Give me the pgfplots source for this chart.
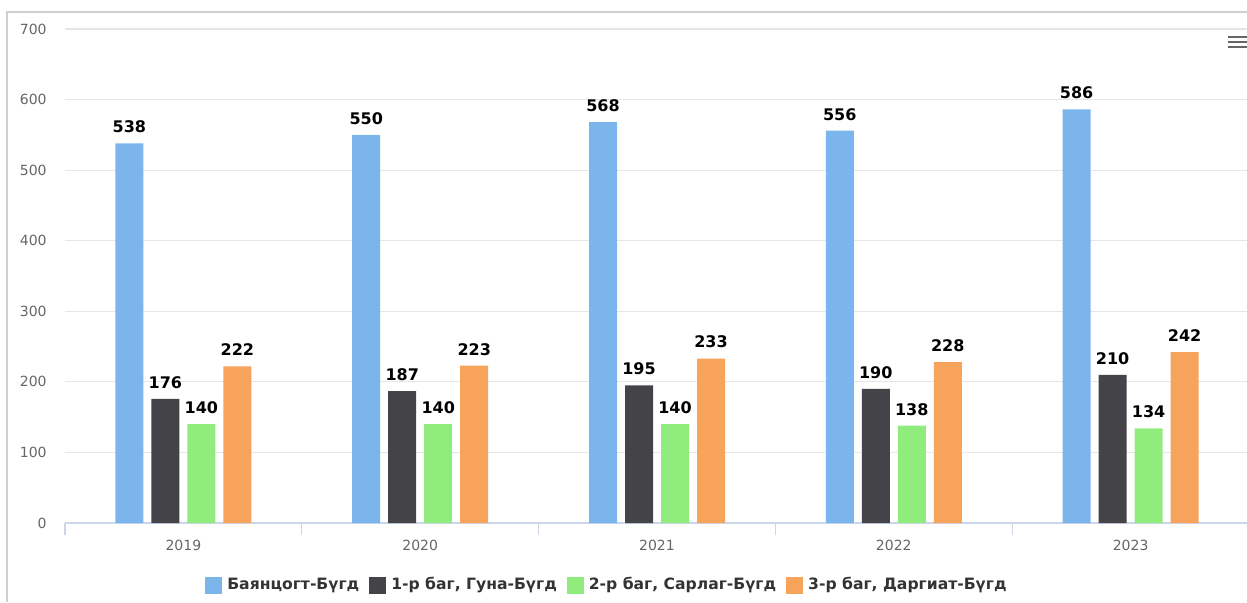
\documentclass[border=0pt]{standalone}
\usepackage{fontspec}
\setmainfont{DejaVu Sans}
\usepackage{pgfplots}
\pgfplotsset{compat=1.18}
\definecolor{cA}{HTML}{7CB5EC}
\definecolor{cB}{HTML}{434348}
\definecolor{cC}{HTML}{90ED7D}
\definecolor{cD}{HTML}{F7A35C}
\definecolor{gridc}{HTML}{E6E6E6}
\definecolor{axisc}{HTML}{CCD6EB}
\definecolor{tickc}{HTML}{666666}
\definecolor{legtext}{HTML}{333333}
\definecolor{bordc}{HTML}{CFCFCF}
\begin{document}
\begin{tikzpicture}
\path[use as bounding box] (0,0) rectangle (623.5pt,-301pt);
\draw[color=bordc, line width=0.8pt] (3.5pt,-301pt) -- (3.5pt,-6pt) -- (623.5pt,-6pt);
\begin{axis}[
  at={(32.5pt,-261.5pt)}, anchor=south west,
  scale only axis, width=592pt, height=247pt,
  xmin=-0.5, xmax=4.5, ymin=0, ymax=700,
  ybar=4pt, bar width=14pt,
  /pgf/number format/assume math mode=true,
  axis lines*=left,
  axis line style={-},
  y axis line style={draw=none},
  x axis line style={color=axisc, line width=0.6pt},
  ytick={0,100,...,700},
  xtick={0,1,2,3,4},
  xticklabels={2019,2020,2021,2022,2023},
  minor xtick={-0.5,0.5,1.5,2.5,3.5,4.5},
  tick align=outside,
  major tick length=0pt,
  minor tick length=6pt,
  minor tick style={color=axisc, line width=0.6pt},
  ymajorgrids=true,
  grid style={color=gridc, line width=0.6pt},
  yticklabel style={font=\fontsize{7}{7}\selectfont, text=tickc, anchor=east, inner sep=0pt, xshift=-9pt},
  xticklabel style={font=\fontsize{7}{7}\selectfont, text=tickc, anchor=north, inner sep=0pt, yshift=-8.5pt},
  nodes near coords,
  every node near coord/.append style={font=\bfseries\fontsize{8}{8}\selectfont, text=black, anchor=south, inner sep=0pt, yshift=5pt},
  legend style={at={(0.4586,-0.1255)}, anchor=center, draw=none, fill=none,
    font=\bfseries\fontsize{7.8}{9}\selectfont, text=legtext,
    /tikz/every odd column/.append style={column sep=0.5pt},
    /tikz/every even column/.append style={column sep=3pt}},
  legend columns=-1,
  legend image code/.code={\fill (0pt,-4.25pt) rectangle (8.5pt,4.25pt);},
]
\addplot[fill=cA, draw=none] coordinates {(0,538) (1,550) (2,568) (3,556) (4,586)};
\addplot[fill=cB, draw=none] coordinates {(0,176) (1,187) (2,195) (3,190) (4,210)};
\addplot[fill=cC, draw=none] coordinates {(0,140) (1,140) (2,140) (3,138) (4,134)};
\addplot[fill=cD, draw=none] coordinates {(0,222) (1,223) (2,233) (3,228) (4,242)};
\addlegendentry{Баянцогт-Бүгд}
\addlegendentry{1-р баг, Гуна-Бүгд}
\addlegendentry{2-р баг, Сарлаг-Бүгд}
\addlegendentry{3-р баг, Даргиат-Бүгд}
\end{axis}
\draw[color=tickc, line width=1pt] (614pt,-18.5pt) -- (623.5pt,-18.5pt);
\draw[color=tickc, line width=1pt] (614pt,-21pt) -- (623.5pt,-21pt);
\draw[color=tickc, line width=1pt] (614pt,-23.5pt) -- (623.5pt,-23.5pt);
\end{tikzpicture}
\end{document}
